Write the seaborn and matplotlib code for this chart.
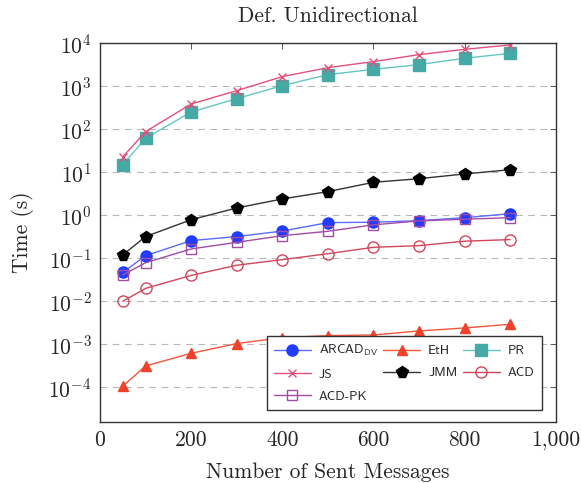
import numpy as np
import pandas as pd
import matplotlib
matplotlib.use("Agg")
import matplotlib.pyplot as plt
import seaborn as sns
from matplotlib.ticker import FuncFormatter, NullLocator

messages = [50, 100, 200, 300, 400, 500, 600, 700, 800, 900]
arcad_dv = [0.047, 0.115, 0.258, 0.32, 0.43, 0.675, 0.69, 0.75, 0.88, 1.09]
eth = [1.07e-4, 3.13e-4, 6.18e-4, 1.04e-3, 1.43e-3, 1.59e-3, 1.65e-3, 2.04e-3, 2.4e-3, 2.92e-3]
pr = [15.1, 61.8, 253, 516, 1037, 1867, 2484, 3190, 4480, 5850]
js = [23, 88, 388, 792, 1679, 2716, 3750, 5450, 7240, 9150]
jmm = [0.12, 0.32, 0.79, 1.48, 2.4, 3.55, 5.85, 7.1, 9.15, 11.5]
acd = [0.010, 0.020, 0.040, 0.069, 0.093, 0.128, 0.18, 0.197, 0.25, 0.272]
acd_pk = [0.041, 0.079, 0.165, 0.235, 0.336, 0.425, 0.60, 0.74, 0.81, 0.88]

series_names = ["ARCAD$_{\\mathsf{DV}}$", "EtH", "PR", "JS", "JMM", "ACD", "ACD-PK"]
series_values = [arcad_dv, eth, pr, js, jmm, acd, acd_pk]

sns.set_theme(style="white")
plt.rcParams["font.family"] = "serif"
plt.rcParams["font.serif"] = ["cmr10"]
plt.rcParams["mathtext.fontset"] = "cm"
plt.rcParams["axes.unicode_minus"] = False
plt.rcParams["axes.formatter.use_mathtext"] = True

styles = {
    "ARCAD$_{\\mathsf{DV}}$": dict(color="#5a6bff", mfc="#1f3cff", mec="#1f3cff", marker="o", ms=8),
    "EtH": dict(color="#f4553c", mfc="#f2402a", mec="#f2402a", marker="^", ms=7.5),
    "PR": dict(color="#66c6c2", mfc="#45a9a5", mec="#45a9a5", marker="s", ms=8),
    "JS": dict(color="#e4507a", mfc="#e4507a", mec="#e4507a", marker="x", ms=6),
    "JMM": dict(color="#333333", mfc="black", mec="black", marker="p", ms=8.5),
    "ACD": dict(color="#d2465a", mfc="none", mec="#d2465a", marker="o", ms=8),
    "ACD-PK": dict(color="#a24ca6", mfc="none", mec="#a24ca6", marker="s", ms=7.5),
}

fig = plt.figure(figsize=(5.81, 4.83), dpi=100)
ax = fig.add_axes([100/581, 1-421.7/483, 455.7/581, 378.4/483])

for name, vals in zip(series_names, series_values):
    df = pd.DataFrame({"x": messages, "y": vals})
    st = styles[name]
    sns.lineplot(data=df, x="x", y="y", ax=ax, color=st["color"], marker=st["marker"],
                 markersize=st["ms"], markerfacecolor=st["mfc"], markeredgecolor=st["mec"],
                 markeredgewidth=1.0, linewidth=1.0, label=name)

ax.set_yscale("log")
ax.set_ylim(10**-4.8, 1e4)
ax.set_xlim(0, 1000)
ax.set_xticks([0, 200, 400, 600, 800, 1000])
ax.xaxis.set_major_formatter(FuncFormatter(lambda v, p: f"{v:,.0f}"))
ax.set_yticks([10.0**k for k in range(-4, 5)])
ax.yaxis.set_minor_locator(NullLocator())

ax.grid(True, axis="y", which="major", color="#b8b8b8", linestyle=(0, (6, 5)), linewidth=0.8)
ax.set_axisbelow(True)
for sp in ax.spines.values():
    sp.set_color("#333333")
    sp.set_linewidth(1.0)
ax.tick_params(axis="both", which="major", direction="in", top=True, right=True,
               length=4.5, width=0.7, color="#555555", labelsize=15.5, pad=6)

ax.set_title("Def. Unidirectional", fontsize=15.5, pad=15)
ax.set_xlabel("Number of Sent Messages", fontsize=15.5, labelpad=9)
ax.set_ylabel("Time (s)", fontsize=15.5, labelpad=10)

handles, labels = ax.get_legend_handles_labels()
order = [0, 3, 6, 1, 4, 2, 5]
leg = ax.legend([handles[i] for i in order], [labels[i] for i in order],
                ncol=3, loc="lower right", bbox_to_anchor=(0.969, 0.031), borderaxespad=0,
                frameon=True, fancybox=False, edgecolor="#333333", framealpha=1,
                prop={"family": "cmss10", "size": 9.5}, handlelength=2.8, columnspacing=0.4,
                labelspacing=0.75, borderpad=0.55, handletextpad=0.6)
leg.get_frame().set_linewidth(1.0)

fig.savefig("out.png", dpi=100)
